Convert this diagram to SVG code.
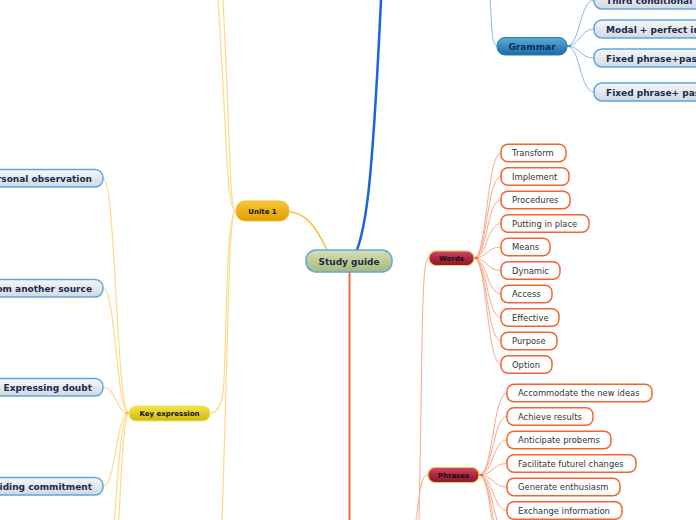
<svg xmlns="http://www.w3.org/2000/svg" width="696" height="520" viewBox="0 0 696 520">
<defs>
<linearGradient id="gGrey" x1="0" y1="0" x2="0" y2="1"><stop offset="0" stop-color="#f6f8fa"/><stop offset="1" stop-color="#d2d8de"/></linearGradient>
<linearGradient id="gStudy" x1="0" y1="0" x2="0" y2="1"><stop offset="0" stop-color="#d6deb2"/><stop offset="1" stop-color="#a8b87c"/></linearGradient>
<linearGradient id="gGram" x1="0" y1="0" x2="0" y2="1"><stop offset="0" stop-color="#5eaad8"/><stop offset="1" stop-color="#1a6aa6"/></linearGradient>
<linearGradient id="gUnite" x1="0" y1="0" x2="0" y2="1"><stop offset="0" stop-color="#f8c638"/><stop offset="1" stop-color="#e09e00"/></linearGradient>
<linearGradient id="gKey" x1="0" y1="0" x2="0" y2="1"><stop offset="0" stop-color="#f2e448"/><stop offset="1" stop-color="#d0b80e"/></linearGradient>
<linearGradient id="gRed" x1="0" y1="0" x2="0" y2="1"><stop offset="0" stop-color="#d84868"/><stop offset="0.5" stop-color="#b02444"/><stop offset="1" stop-color="#8c1632"/></linearGradient>
</defs>
<style>
.lt{fill:url(#gGrey);stroke:#5ca6de;stroke-width:1.5}
.ltx{font-family:"DejaVu Sans",sans-serif;font-weight:bold;font-size:9px;fill:#1a2a52}
.wd{fill:#ffffff;stroke:#f26434;stroke-width:1.5}
.wtx{font-family:"DejaVu Sans",sans-serif;font-size:8.4px;fill:#333333}
.sm{font-family:"DejaVu Sans",sans-serif;font-weight:bold;font-size:7px;fill:#111111}
.cy{fill:none;stroke:#fdd98c;stroke-width:1.2}
.co{fill:none;stroke:#f9a98c;stroke-width:1}
.cb{fill:none;stroke:#8ab8ec;stroke-width:1}
</style>
<g id="connectors">
<path d="M357,250 C366,225 372,190 381,0" fill="none" stroke="#1a64dc" stroke-width="2.5"/>
<path d="M349.5,272 L349.5,520" fill="none" stroke="#f06a3a" stroke-width="2"/>
<path d="M288,212 C305,212 315,225 327,250" fill="none" stroke="#f8c040" stroke-width="1.5"/>
<path class="cy" d="M236,211 C226,211 228,150 218,0"/>
<path class="cy" d="M236,211 C229,211 231,150 223,0"/>
<path class="cy" d="M236,211 C226,211 227,320 224,380 C223,405 218,413 210,413"/>
<path class="cy" d="M236,211 C228,211 229,320 222,520"/>
<path class="cy" d="M129,413 C116,413 116,178 103,178"/>
<path class="cy" d="M129,413 C116,413 116,288 103,288"/>
<path class="cy" d="M129,413 C116,413 116,387 103,387"/>
<path class="cy" d="M129,413 C116,413 116,486 103,486"/>
<path class="cy" d="M129,413 C116,413 116,585 103,585"/>
<path class="cy" d="M129,413 C118,413 118,684 103,684"/>
<path d="M125,413 L130,413" stroke="#f8c040" stroke-width="2"/>
<path class="cb" d="M497,46 C491,46 492,20 490,0"/>
<path class="cb" d="M567,46 C580,46 580,0 594,0"/>
<path class="cb" d="M567,46 C580,46 580,29 594,29"/>
<path class="cb" d="M567,46 C580,46 580,58 594,58"/>
<path class="cb" d="M567,46 C580,46 580,92 594,92"/>
<path class="co" d="M429,258 C421,258 423,330 419,520"/>
<path class="co" d="M428,475 C420,475 420,495 416,520"/>
<path class="co" d="M474,258 C487,258 487,153 501,153"/>
<path class="co" d="M474,258 C487,258 487,176.5 501,176.5"/>
<path class="co" d="M474,258 C487,258 487,200 501,200"/>
<path class="co" d="M474,258 C487,258 487,223.5 501,223.5"/>
<path class="co" d="M474,258 C487,258 487,247 501,247"/>
<path class="co" d="M474,258 C487,258 487,270.5 501,270.5"/>
<path class="co" d="M474,258 C487,258 487,294 501,294"/>
<path class="co" d="M474,258 C487,258 487,317.5 501,317.5"/>
<path class="co" d="M474,258 C487,258 487,341 501,341"/>
<path class="co" d="M474,258 C487,258 487,364.5 501,364.5"/>
<path class="co" d="M479,475 C493,475 493,393 507,393"/>
<path class="co" d="M479,475 C493,475 493,416.5 507,416.5"/>
<path class="co" d="M479,475 C493,475 493,440 507,440"/>
<path class="co" d="M479,475 C493,475 493,463.5 507,463.5"/>
<path class="co" d="M479,475 C493,475 493,487 507,487"/>
<path class="co" d="M479,475 C493,475 493,510.5 507,510.5"/>
<path class="co" d="M479,475 C493,475 493,534 507,534"/>
<path class="co" d="M479,475 C493,475 493,557.5 507,557.5"/>
<path class="co" d="M479,475 C493,475 493,581 507,581"/>
<path d="M474,258 L478,258" stroke="#f06a3a" stroke-width="2"/>
<path d="M479,475 L483,475" stroke="#f06a3a" stroke-width="2"/>
<path d="M567,46 L571,46" stroke="#4a90d8" stroke-width="2"/>
</g>
<g id="study-guide"><rect x="306" y="250" width="86" height="22" rx="10" fill="url(#gStudy)" stroke="#60a8e0" stroke-width="1.5"/><text x="349" y="264.5" text-anchor="middle" font-family="DejaVu Sans,sans-serif" font-weight="bold" font-size="9" fill="#1a2a4a">Study guide</text></g>
<g id="unite1"><rect x="236" y="201" width="53" height="20" rx="9" fill="url(#gUnite)" stroke="#f4bc30" stroke-width="1"/><text x="262.5" y="213.5" text-anchor="middle" class="sm">Unite 1</text></g>
<g id="key-expression"><rect x="129" y="406" width="81" height="15" rx="7" fill="url(#gKey)" stroke="#f2e466" stroke-width="1"/><text x="169.5" y="416" text-anchor="middle" class="sm">Key expression</text></g>
<g id="personal-observation"><rect class="lt" x="-100" y="169.5" width="203" height="17.5" rx="8"/><text class="ltx" x="92" y="181.5" text-anchor="end">rsonal observation</text></g>
<g id="another-source"><rect class="lt" x="-100" y="279.5" width="203" height="17.5" rx="8"/><text class="ltx" x="92" y="291.5" text-anchor="end">om another source</text></g>
<g id="expressing-doubt"><rect class="lt" x="-100" y="378.5" width="203" height="17.5" rx="8"/><text class="ltx" x="92" y="390.5" text-anchor="end">Expressing doubt</text></g>
<g id="commitment"><rect class="lt" x="-100" y="477.5" width="203" height="17.5" rx="8"/><text class="ltx" x="92" y="489.5" text-anchor="end">iding commitment</text></g>
<g id="grammar"><rect x="497" y="37.5" width="70" height="17.5" rx="8" fill="url(#gGram)" stroke="#2a7ab4" stroke-width="1"/><text x="532" y="49.5" text-anchor="middle" font-family="DejaVu Sans,sans-serif" font-weight="bold" font-size="9" fill="#12305a">Grammar</text></g>
<g id="third-conditional"><rect class="lt" x="594" y="-9" width="160" height="18" rx="8"/><text class="ltx" x="606" y="3.5">Third conditional</text></g>
<g id="modal-perfect"><rect class="lt" x="594" y="20" width="160" height="18" rx="8"/><text class="ltx" x="606" y="32.5">Modal + perfect infinitive</text></g>
<g id="fixed-phrase-1"><rect class="lt" x="594" y="49" width="160" height="18" rx="8"/><text class="ltx" x="606" y="61.5">Fixed phrase+passive</text></g>
<g id="fixed-phrase-2"><rect class="lt" x="594" y="83" width="160" height="18" rx="8"/><text class="ltx" x="606" y="95.5">Fixed phrase+ passive</text></g>
<g id="words"><rect x="429" y="251" width="45" height="14.5" rx="7" fill="url(#gRed)" stroke="#e8d44a" stroke-width="1.2"/><text x="451.5" y="261" text-anchor="middle" class="sm">Words</text></g>
<g id="phrases"><rect x="428" y="467.5" width="51" height="15" rx="7" fill="url(#gRed)" stroke="#e8d44a" stroke-width="1.2"/><text x="453.5" y="477.7" text-anchor="middle" class="sm">Phrases</text></g>
<g id="w-transform"><rect class="wd" x="501" y="144.25" width="65" height="17.5" rx="7"/><text class="wtx" x="512" y="156">Transform</text></g>
<g id="w-implement"><rect class="wd" x="501" y="167.75" width="68" height="17.5" rx="7"/><text class="wtx" x="512" y="179.5">Implement</text></g>
<g id="w-procedures"><rect class="wd" x="501" y="191.25" width="69" height="17.5" rx="7"/><text class="wtx" x="512" y="203">Procedures</text></g>
<g id="w-putting"><rect class="wd" x="501" y="214.75" width="88" height="17.5" rx="7"/><text class="wtx" x="512" y="226.5">Putting in place</text></g>
<g id="w-means"><rect class="wd" x="501" y="238.25" width="49" height="17.5" rx="7"/><text class="wtx" x="512" y="250">Means</text></g>
<g id="w-dynamic"><rect class="wd" x="501" y="261.75" width="59" height="17.5" rx="7"/><text class="wtx" x="512" y="273.5">Dynamic</text></g>
<g id="w-access"><rect class="wd" x="501" y="285.25" width="51" height="17.5" rx="7"/><text class="wtx" x="512" y="297">Access</text></g>
<g id="w-effective"><rect class="wd" x="501" y="308.75" width="58" height="17.5" rx="7"/><text class="wtx" x="512" y="320.5">Effective</text></g>
<g id="w-purpose"><rect class="wd" x="501" y="332.25" width="56" height="17.5" rx="7"/><text class="wtx" x="512" y="344">Purpose</text></g>
<g id="w-option"><rect class="wd" x="501" y="355.75" width="51" height="17.5" rx="7"/><text class="wtx" x="512" y="367.5">Option</text></g>
<g id="p-accommodate"><rect class="wd" x="507" y="384.25" width="145" height="17.5" rx="7"/><text class="wtx" x="518" y="396">Accommodate the new ideas</text></g>
<g id="p-achieve"><rect class="wd" x="507" y="407.75" width="86" height="17.5" rx="7"/><text class="wtx" x="518" y="419.5">Achieve results</text></g>
<g id="p-anticipate"><rect class="wd" x="507" y="431.25" width="104" height="17.5" rx="7"/><text class="wtx" x="518" y="443">Anticipate probems</text></g>
<g id="p-facilitate"><rect class="wd" x="507" y="454.75" width="129" height="17.5" rx="7"/><text class="wtx" x="518" y="466.5">Facilitate futurel changes</text></g>
<g id="p-generate"><rect class="wd" x="507" y="478.25" width="113" height="17.5" rx="7"/><text class="wtx" x="518" y="490">Generate enthusiasm</text></g>
<g id="p-exchange"><rect class="wd" x="507" y="501.75" width="115" height="17.5" rx="7"/><text class="wtx" x="518" y="513.5">Exchange information</text></g>
</svg>
